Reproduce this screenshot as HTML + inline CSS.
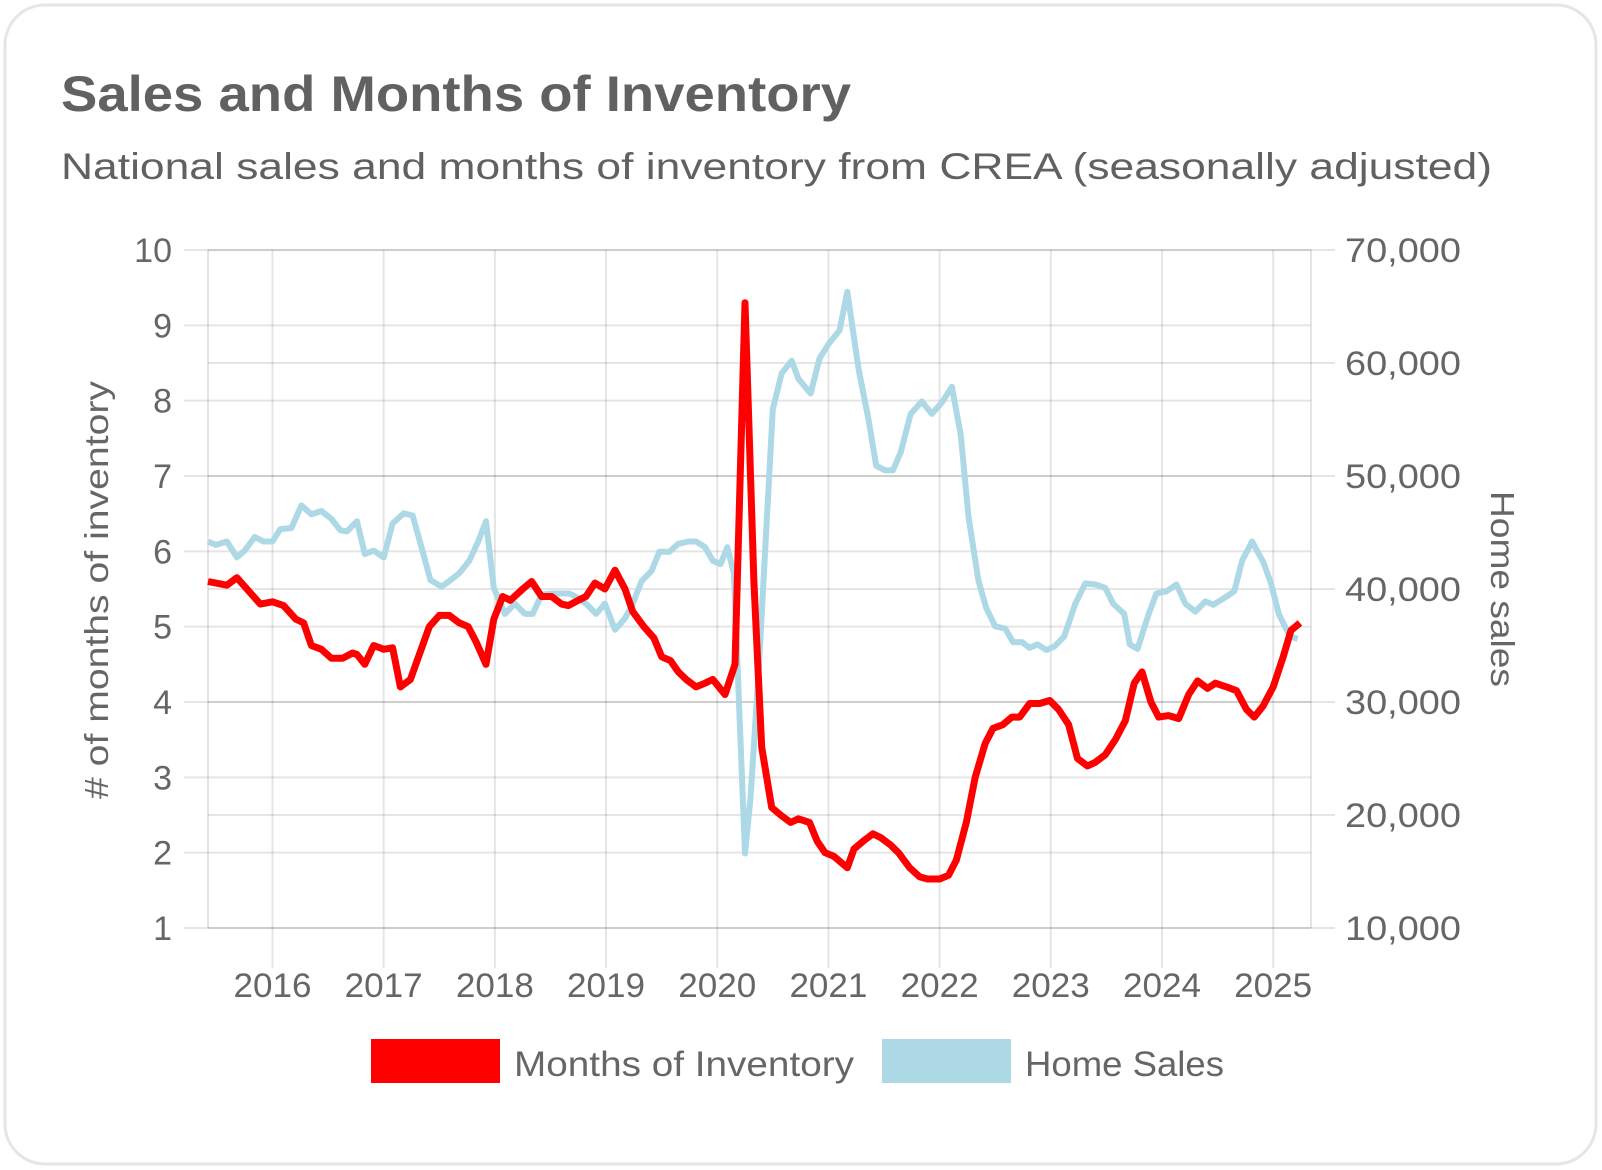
<!DOCTYPE html>
<html><head><meta charset="utf-8"><style>
html,body{margin:0;padding:0;background:#fff;width:1602px;height:1170px;overflow:hidden}
svg{display:block;font-family:"Liberation Sans",sans-serif}
</style></head><body>
<svg id="chart" width="1602" height="1170" viewBox="0 0 1602 1170">
<rect x="5" y="5" width="1591" height="1159" rx="40" fill="#fff" stroke="#e6e6e6" stroke-width="3"/>
<text x="61" y="111" font-size="50" font-weight="bold" fill="#616161" textLength="790" lengthAdjust="spacingAndGlyphs">Sales and Months of Inventory</text>
<text x="61" y="179" font-size="37" fill="#616161" textLength="1431" lengthAdjust="spacingAndGlyphs">National sales and months of inventory from CREA (seasonally adjusted)</text>
<g id="grid"></g>
<g id="series"></g>
<g id="axes"></g>
<text transform="translate(108,590) rotate(-90)" text-anchor="middle" font-size="33" fill="#666" textLength="418" lengthAdjust="spacingAndGlyphs"># of months of inventory</text>
<text transform="translate(1491,589) rotate(90)" text-anchor="middle" font-size="33" fill="#666" textLength="196" lengthAdjust="spacingAndGlyphs">Home sales</text>
<g>
<rect x="371" y="1039" width="129" height="44" fill="#ff0000"/>
<text x="514" y="1076" font-size="35" fill="#666" textLength="340" lengthAdjust="spacingAndGlyphs">Months of Inventory</text>
<rect x="882" y="1039" width="129" height="44" fill="#add8e6"/>
<text x="1025" y="1076" font-size="35" fill="#666" textLength="199" lengthAdjust="spacingAndGlyphs">Home Sales</text>
</g>
</svg>
<script>
const invDates=[2015.42,2015.59,2015.68,2015.89,2016.0,2016.10,2016.21,2016.28,2016.35,2016.44,2016.53,2016.63,2016.72,2016.76,2016.83,2016.91,2017.0,2017.08,2017.15,2017.24,2017.41,2017.50,2017.59,2017.68,2017.76,2017.83,2017.92,2017.99,2018.07,2018.14,2018.25,2018.33,2018.42,2018.51,2018.60,2018.66,2018.75,2018.82,2018.90,2018.99,2019.08,2019.17,2019.24,2019.34,2019.43,2019.50,2019.58,2019.65,2019.72,2019.81,2019.89,2019.96,2020.07,2020.16,2020.25,2020.33,2020.40,2020.49,2020.57,2020.66,2020.73,2020.83,2020.90,2020.97,2021.05,2021.17,2021.23,2021.31,2021.40,2021.47,2021.56,2021.63,2021.73,2021.82,2021.89,2022.0,2022.08,2022.15,2022.24,2022.32,2022.41,2022.48,2022.57,2022.65,2022.72,2022.81,2022.90,2022.99,2023.07,2023.16,2023.24,2023.33,2023.40,2023.49,2023.58,2023.67,2023.75,2023.82,2023.90,2023.97,2024.06,2024.15,2024.24,2024.32,2024.41,2024.48,2024.58,2024.67,2024.76,2024.83,2024.91,2025.0,2025.09,2025.16,2025.24];
const invValues=[5.6,5.55,5.65,5.3,5.33,5.28,5.1,5.05,4.75,4.7,4.58,4.58,4.65,4.63,4.5,4.75,4.7,4.72,4.2,4.3,5.0,5.15,5.15,5.05,5.0,4.8,4.5,5.1,5.4,5.35,5.5,5.6,5.4,5.4,5.3,5.28,5.35,5.4,5.58,5.5,5.75,5.5,5.2,5.0,4.85,4.6,4.55,4.4,4.3,4.2,4.25,4.3,4.1,4.5,9.3,5.6,3.4,2.6,2.5,2.4,2.45,2.4,2.15,2.0,1.95,1.8,2.05,2.15,2.25,2.2,2.1,2.0,1.8,1.68,1.65,1.65,1.7,1.9,2.4,3.0,3.45,3.65,3.7,3.8,3.8,3.98,3.98,4.02,3.9,3.7,3.25,3.15,3.2,3.3,3.5,3.75,4.25,4.4,4.0,3.8,3.82,3.78,4.1,4.28,4.18,4.25,4.2,4.15,3.9,3.8,3.95,4.2,4.6,4.95,5.05];
const salesDates=[2015.42,2015.49,2015.59,2015.68,2015.75,2015.84,2015.92,2016.00,2016.07,2016.17,2016.26,2016.35,2016.44,2016.53,2016.61,2016.67,2016.76,2016.83,2016.91,2017.00,2017.08,2017.18,2017.26,2017.34,2017.42,2017.52,2017.59,2017.68,2017.77,2017.85,2017.92,2017.99,2018.09,2018.18,2018.27,2018.34,2018.42,2018.51,2018.60,2018.67,2018.75,2018.83,2018.91,2018.99,2019.08,2019.17,2019.24,2019.32,2019.41,2019.48,2019.57,2019.65,2019.74,2019.81,2019.89,2019.96,2020.03,2020.09,2020.15,2020.20,2020.25,2020.30,2020.37,2020.44,2020.50,2020.58,2020.67,2020.73,2020.84,2020.92,2021.01,2021.10,2021.17,2021.27,2021.36,2021.43,2021.51,2021.58,2021.65,2021.74,2021.84,2021.93,2022.02,2022.11,2022.19,2022.26,2022.35,2022.42,2022.50,2022.59,2022.66,2022.74,2022.81,2022.88,2022.96,2023.03,2023.12,2023.22,2023.31,2023.40,2023.49,2023.56,2023.66,2023.71,2023.78,2023.88,2023.95,2024.04,2024.13,2024.21,2024.30,2024.39,2024.46,2024.56,2024.65,2024.72,2024.81,2024.91,2024.98,2025.05,2025.15,2025.22];
const salesValues=[44200,43900,44200,42800,43400,44600,44200,44200,45300,45400,47400,46600,46900,46200,45200,45100,46000,43100,43400,42800,45800,46700,46500,43700,40800,40200,40700,41400,42500,44200,46000,40100,37800,38700,37800,37800,39500,39600,39600,39600,39200,38600,37800,38700,36400,37400,38700,40700,41600,43300,43300,44000,44200,44200,43700,42500,42200,43700,41400,28800,16600,21600,32400,45100,55900,59100,60200,58600,57300,60400,61800,62900,66300,59500,55000,50900,50500,50500,52100,55500,56600,55500,56500,57900,53600,46400,40700,38300,36700,36500,35300,35300,34800,35100,34600,34900,35800,38700,40500,40400,40100,38700,37800,35100,34700,37800,39600,39800,40400,38700,38000,38900,38600,39200,39800,42500,44200,42400,40500,37800,35800,35600];
const leftTicks=[1,2,3,4,5,6,7,8,9,10];
const rightTicks=[10000,20000,30000,40000,50000,60000,70000];
const yearTicks=[2016,2017,2018,2019,2020,2021,2022,2023,2024,2025];

const NS='http://www.w3.org/2000/svg';
const PL=208,PR=1311,PT=250,PB=928;
const X0=2015.42,X1=2025.34;
const xS=t=>PL+(t-X0)/(X1-X0)*(PR-PL);
const yL=v=>PB-(v-1)/9*(PB-PT);
const yR=v=>PB-(v-10000)/60000*(PB-PT);
function mk(tag,attrs,parent){const e=document.createElementNS(NS,tag);for(const k in attrs)e.setAttribute(k,attrs[k]);parent.appendChild(e);return e;}
const grid=document.getElementById('grid'),axes=document.getElementById('axes'),ser=document.getElementById('series');
const gc='rgba(0,0,0,0.1)';
leftTicks.forEach(v=>{const y=yL(v);
 const l=mk('line',{x1:184,x2:PR,y1:y,y2:y,stroke:gc,'stroke-width':2},grid);
 
 
 const t=mk('text',{x:172,y:y+12,'text-anchor':'end','font-size':34,fill:'#666'},axes);t.textContent=v;
 
 
});
rightTicks.forEach(v=>{const y=yR(v);
 const l=mk('line',{x1:PL,x2:1335,y1:y,y2:y,stroke:gc,'stroke-width':2},grid);
 
 
 const t=mk('text',{x:1345,y:y+12,'font-size':34,fill:'#666',textLength:116,lengthAdjust:'spacingAndGlyphs'},axes);t.textContent=v.toLocaleString('en-US');
 
 
});
yearTicks.forEach(v=>{const x=xS(v);
 const l=mk('line',{x1:x,x2:x,y1:PT,y2:968,stroke:gc,'stroke-width':2},grid);
 
 
 const t=mk('text',{x:x,y:997,'text-anchor':'middle','font-size':34,fill:'#666',textLength:78,lengthAdjust:'spacingAndGlyphs'},axes);t.textContent=v;
 
 
});
[PL,PR].forEach((x,i)=>{const l=mk('line',{x1:x,x2:x,y1:PT,y2:PB,stroke:gc,'stroke-width':2},grid);
 
 });
function path(d,v,ys){return d.map((t,i)=>(i?'L':'M')+xS(t).toFixed(1)+','+ys(v[i]).toFixed(1)).join(' ');}
const sp=mk('path',{d:path(salesDates,salesValues,yR),fill:'none',stroke:'#add8e6','stroke-width':6,'stroke-linejoin':'round'},ser);


const ip=mk('path',{d:path(invDates,invValues,yL),fill:'none',stroke:'#ff0000','stroke-width':7,'stroke-linejoin':'round'},ser);


</script>
</body></html>
